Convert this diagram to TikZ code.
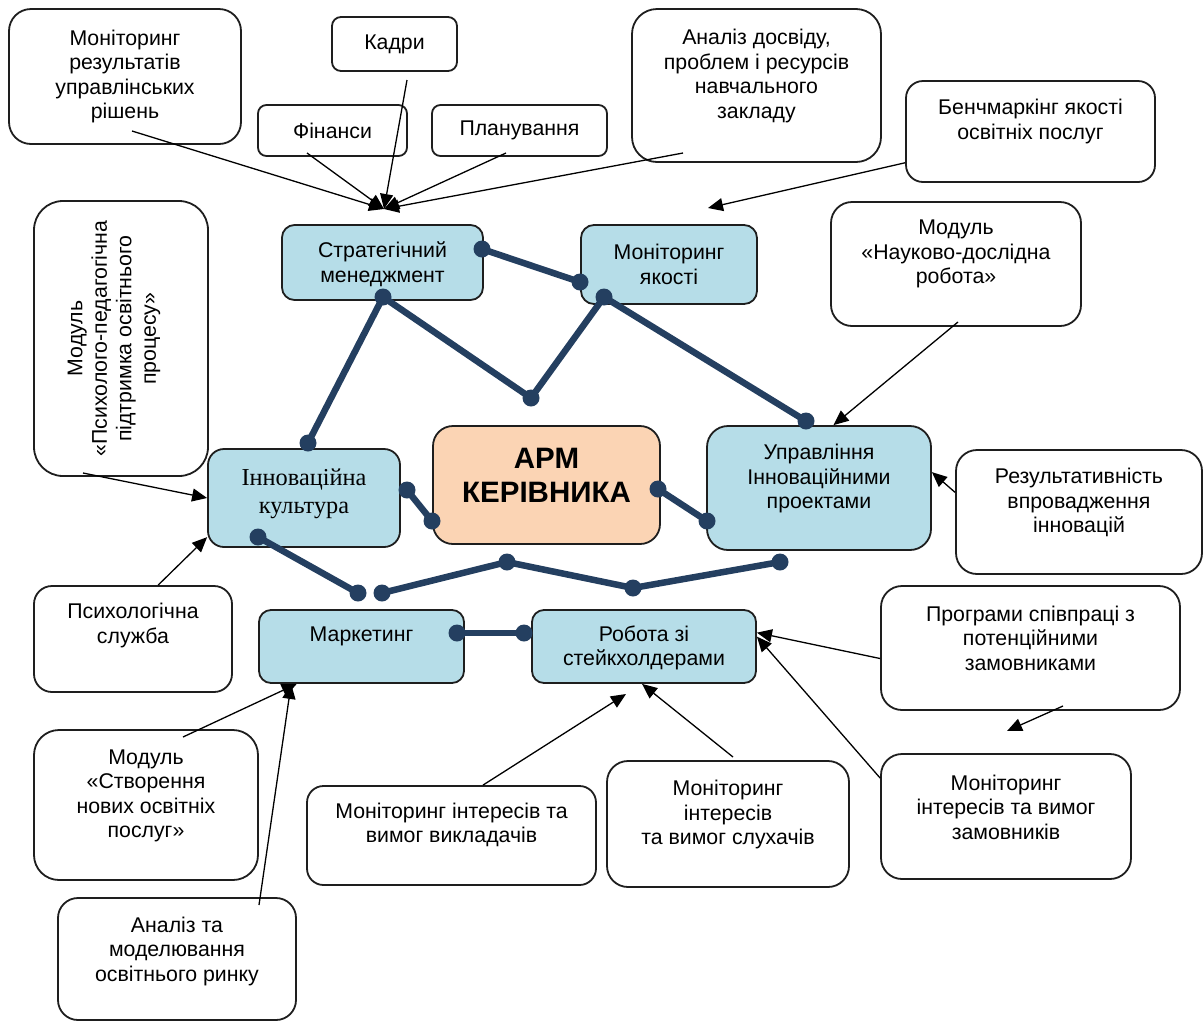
\documentclass[tikz,border=0pt]{standalone}
\usepackage{fontspec}
\setmainfont{Liberation Sans}
\newfontfamily\serifface{Liberation Serif}
\usetikzlibrary{arrows.meta}

\definecolor{cardedge}{HTML}{1E1E1E}
\definecolor{cardblue}{HTML}{B6DDE8}
\definecolor{cardpeach}{HTML}{FBD4B4}
\definecolor{linknavy}{HTML}{243F60}

\tikzset{
  card/.style n args={3}{draw=cardedge, line width=1.8pt, inner sep=0pt,
    minimum width=#1pt, minimum height=#2pt, rounded corners=#3pt},
  words/.style={align=center, inner sep=0pt, font=\fontsize{21.3}{24.5}\selectfont},
  says/.style 2 args={label={[words, yshift=#1pt]center:{#2}}},
  link/.style={draw=linknavy, line width=6.5pt, line join=round},
  joint/.style={circle, fill=linknavy, inner sep=0pt, minimum size=17pt},
  feed/.style={draw=black, line width=1.3pt, -{Triangle[length=15pt, width=13pt]}},
}

\begin{document}
\begin{tikzpicture}[x=1pt, y=-1pt]

  \useasboundingbox (0, 0) rectangle (1203, 1021);

  \node [card={232}{135}{22}, fill=white, says={0}{Моніторинг\\результатів\\управлінських\\рішень}] (monres) at (125, 76.5) {};
  \node [card={125}{54}{9}, fill=white, says={0}{Кадри}] (kadry) at (394.5, 44) {};
  \node [card={149}{51}{8.5}, fill=white, says={0}{Фінанси}] (fin) at (332.5, 130.5) {};
  \node [card={175}{51}{8.5}, fill=white, says={0}{Планування}] (plan) at (519.5, 130.5) {};
  \node [card={249}{153}{25}, fill=white, says={9.5}{Аналіз досвіду,\\проблем і ресурсів\\навчального\\закладу}] (analiz) at (756.5, 85.5) {};
  \node [card={249}{101}{17}, fill=white, says={10}{Бенчмаркінг якості\\освітніх послуг}] (bench) at (1030.5, 131.5) {};
  \node [card={250}{124}{21}, fill=white, says={10}{Модуль\\«Науково-дослідна\\робота»}] (ndr) at (956, 264) {};
  \node [card={174}{275}{29}, fill=white, label={[words, rotate=90, yshift=7pt]center:{Модуль\\«Психолого-педагогічна\\підтримка освітнього\\процесу»}}] (psych) at (121, 338.5) {};

  \node [card={201}{75}{12.5}, fill=cardblue, says={-1.5}{Стратегічний\\менеджмент}] (strat) at (382.5, 262.5) {};
  \node [card={176}{79}{13}, fill=cardblue, says={0}{Моніторинг\\якості}] (monq) at (669, 264.5) {};
  \node [card={192}{98}{16}, fill=cardblue, label={[words, font=\serifface\fontsize{24.3}{28}\selectfont, yshift=4.5pt]center:{Інноваційна\\культура}}] (innov) at (304, 498) {};
  \node [card={227}{118}{20}, fill=cardpeach, label={[words, font=\bfseries\fontsize{29.5}{34}\selectfont, yshift=9.5pt]center:{АРМ\\КЕРІВНИКА}}] (arm) at (546.5, 485) {};
  \node [card={224}{124}{21}, fill=cardblue, says={9.5}{Управління\\Інноваційними\\проектами}] (upr) at (819, 488) {};
  \node [card={246}{124}{21}, fill=white, says={9.5}{Результативність\\впровадження\\інновацій}] (result) at (1079, 512) {};

  \node [card={198}{106}{18}, fill=white, says={13.5}{Психологічна\\служба}] (sluzhba) at (133, 639) {};
  \node [card={205}{73}{12}, fill=cardblue, says={10.5}{Маркетинг}] (market) at (361.5, 646.5) {};
  \node [card={224}{73}{12}, fill=cardblue, says={-1.5}{Робота зі\\стейкхолдерами}] (robota) at (644, 646.5) {};
  \node [card={299}{124}{21}, fill=white, says={10}{Програми співпраці з\\потенційними\\замовниками}] (prog) at (1030.5, 648) {};
  \node [card={224}{150}{25}, fill=white, says={9}{Модуль\\«Створення\\нових освітніх\\послуг»}] (stvor) at (146, 805) {};
  \node [card={238}{122}{20}, fill=white, says={8}{Аналіз та\\моделювання\\освітнього ринку}] (rynok) at (177, 959) {};
  \node [card={289}{99}{16.5}, fill=white, says={10.5}{Моніторинг інтересів та\\вимог викладачів}] (vykl) at (451.5, 835.5) {};
  \node [card={242}{126}{21}, fill=white, says={9.5}{Моніторинг\\інтересів\\та вимог слухачів}] (sluh) at (728, 824) {};
  \node [card={250}{125}{21}, fill=white, says={9.5}{Моніторинг\\інтересів та вимог\\замовників}] (zam) at (1006, 816.5) {};


  \coordinate (hub) at (384, 209);
  \coordinate (monres tail) at (132, 131);
  \coordinate (kadry tail) at (407, 80);
  \coordinate (fin tail) at (307, 153);
  \coordinate (plan tail) at (506, 153);
  \coordinate (analiz tail) at (683, 153);
  \coordinate (bench tip) at (708, 208);
  \coordinate (ndr tail) at (958, 322);
  \coordinate (psych tail) at (83, 473);
  \coordinate (prog tail) at (1063, 706);
  \coordinate (prog tip) at (1007, 731);
  \coordinate (sluh tail) at (733, 757);
  \coordinate (vykl tip) at (626, 694);
  \coordinate (stvor tail) at (183, 737);
  \coordinate (rynok tail) at (259, 905);

  \draw[feed] (monres tail) -- (hub);
  \draw[feed] (fin tail) -- (hub);
  \draw[feed] (kadry tail) -- (hub);
  \draw[feed] (plan tail) -- (hub);
  \draw[feed] (analiz tail) -- (hub);
  \draw[feed] (bench.194) -- (bench tip);
  \draw[feed] (ndr tail) -- (upr.77);
  \draw[feed] (psych tail) -- (innov.west);
  \draw[feed] (sluzhba.65) -- (innov.202);
  \draw[feed] (result.171) -- (upr.8);
  \draw[feed] (prog.184) -- (robota.7);
  \draw[feed] (prog tail) -- (prog tip);
  \draw[feed] (zam.163) -- (robota.5);
  \draw[feed] (sluh tail) -- (robota.267);
  \draw[feed] (vykl.58) -- (vykl tip);
  \draw[feed] (stvor tail) -- (market.210);
  \draw[feed] (rynok tail) -- (market.208);


  \node [joint] (j1) at (482, 249) {};
  \node [joint] (j2) at (580, 282) {};
  \node [joint] (j3) at (383, 297) {};
  \node [joint] (j4) at (308, 443) {};
  \node [joint] (j5) at (531, 398) {};
  \node [joint] (j6) at (604, 297) {};
  \node [joint] (j7) at (806, 421) {};
  \node [joint] (j8) at (407, 490) {};
  \node [joint] (j9) at (432, 521) {};
  \node [joint] (j10) at (658, 489) {};
  \node [joint] (j11) at (707, 521) {};
  \node [joint] (j12) at (258, 537) {};
  \node [joint] (j13) at (358, 593) {};
  \node [joint] (j14) at (382, 593) {};
  \node [joint] (j15) at (507, 562) {};
  \node [joint] (j16) at (633, 588) {};
  \node [joint] (j17) at (780, 562) {};
  \node [joint] (j18) at (457, 633) {};
  \node [joint] (j19) at (524, 633) {};

  \draw[link] (j1.center) -- (j2.center);
  \draw[link] (j3.center) -- (j4.center);
  \draw[link] (j3.center) -- (j5.center) -- (j6.center);
  \draw[link] (j6.center) -- (j7.center);
  \draw[link] (j8.center) -- (j9.center);
  \draw[link] (j10.center) -- (j11.center);
  \draw[link] (j12.center) -- (j13.center);
  \draw[link] (j14.center) -- (j15.center) -- (j16.center) -- (j17.center);
  \draw[link] (j18.center) -- (j19.center);

\end{tikzpicture}
\end{document}
